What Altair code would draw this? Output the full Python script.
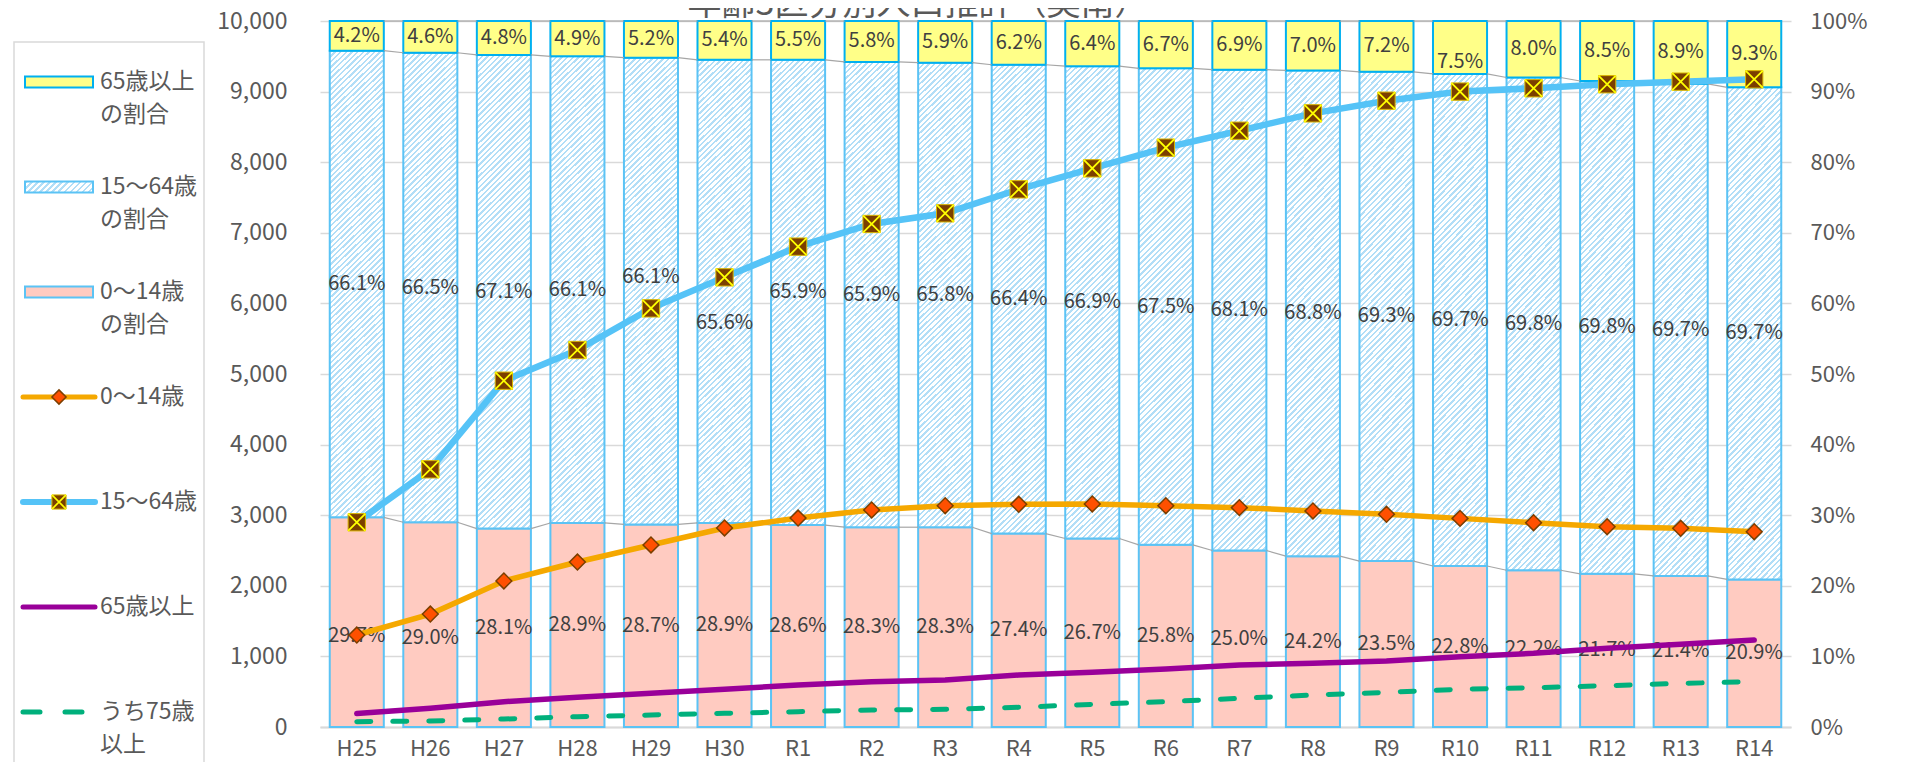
import altair as alt
import pandas as pd

# ---------------- data ----------------
CATS = ["H25", "H26", "H27", "H28", "H29", "H30", "R1", "R2", "R3", "R4",
        "R5", "R6", "R7", "R8", "R9", "R10", "R11", "R12", "R13", "R14"]
SHARE_0_14 = [29.7, 29.0, 28.1, 28.9, 28.7, 28.9, 28.6, 28.3, 28.3, 27.4,
              26.7, 25.8, 25.0, 24.2, 23.5, 22.8, 22.2, 21.7, 21.4, 20.9]
SHARE_15_64 = [66.1, 66.5, 67.1, 66.1, 66.1, 65.6, 65.9, 65.9, 65.8, 66.4,
               66.9, 67.5, 68.1, 68.8, 69.3, 69.7, 69.8, 69.8, 69.7, 69.7]
SHARE_65 = [4.2, 4.6, 4.8, 4.9, 5.2, 5.4, 5.5, 5.8, 5.9, 6.2,
            6.4, 6.7, 6.9, 7.0, 7.2, 7.5, 8.0, 8.5, 8.9, 9.3]
POP_0_14 = [1303, 1600, 2068, 2337, 2578, 2819, 2960, 3074, 3135, 3154,
            3159, 3135, 3107, 3060, 3013, 2955, 2894, 2837, 2814, 2766]
POP_15_64 = [2900, 3650, 4905, 5340, 5930, 6369, 6804, 7125, 7276, 7616,
             7913, 8206, 8446, 8692, 8871, 9000, 9047, 9104, 9141, 9174]
POP_65 = [190, 264, 358, 420, 477, 534, 595, 642, 666, 737,
          774, 822, 878, 902, 935, 996, 1043, 1114, 1171, 1232]
POP_75 = [75, 85, 113, 146, 170, 194, 217, 241, 250, 279,
          321, 358, 406, 453, 491, 534, 557, 585, 618, 642]

TITLE = "年齢3区分別人口推計（美南）"
LEG_LINE1 = ["65歳以上", "15〜64歳", "0〜14歳", "0〜14歳", "15〜64歳", "65歳以上", "うち75歳"]
LEG_LINE2 = ["の割合", "の割合", "の割合", "", "", "", "以上"]

# ---------------- style ----------------
W, H = 1471, 706
FNUM = "Noto Sans CJK JP, sans-serif"
FJP = "Noto Sans CJK JP, sans-serif"
AX_COL = "#595959"
LAB_COL = "#404040"
PINK = "#FFCBC1"
YELLOW = "#FFFF88"
BAR_EDGE = "#5BC3F5"
TOP_EDGE = "#00B0F0"
ORANGE = "#F5A800"
BLUE = "#55C3F7"
PURPLE = "#990099"
GREEN = "#00B07C"
DIAMOND_FILL = "#FF5000"
BROWN = "#7B3F00"
# manual label nudges seen in the reference (pixels, by category / segment)
NUDGE = {("H25", 0): 14, ("H26", 0): 13, ("H29", 1): -14, ("H30", 1): 32, ("R10", 2): 15}
# title placement relative to the plot area, in pixels (centre x, baseline y)
TITLE_X, TITLE_Y = 598, -6


def stripes(n, x2, y2, color, frac):
    stops = []
    for k in range(n):
        o0, o1, o2 = k / n, (k + frac) / n, (k + 1) / n
        stops += [{"offset": o0, "color": color}, {"offset": o1, "color": color},
                  {"offset": o1, "color": "#ffffff"}, {"offset": o2, "color": "#ffffff"}]
    return {"gradient": "linear", "x1": 0, "y1": 0, "x2": x2, "y2": y2, "stops": stops}


HATCH_BAR = stripes(95, 0.124, 1.1, "#B2DEF7", 0.42)
HATCH_SW = stripes(13, 1.131, 0.183, "#B2DEF7", 0.42)

# ---------------- tables ----------------
seg_rows = []
ends = []
for i, c in enumerate(CATS):
    a, b, d = SHARE_0_14[i], SHARE_15_64[i], SHARE_65[i]
    segs = [(0.0, a, a), (a, a + b, b), (a + b, 100.0, d)]
    ends.append([a, a + b, 100.0])
    for s, (st, en, v) in enumerate(segs):
        mid = (st + en) / 2 - NUDGE.get((c, s), 0) * 100.0 / H
        seg_rows.append({"cat": c, "seg": s, "start": st, "end": en, "mid": mid,
                         "label": f"{v:.1f}%"})
seg_df = pd.DataFrame(seg_rows)

ser_rows = []
for s in range(3):
    for i in range(len(CATS) - 1):
        ser_rows.append({"cat": CATS[i], "nxt": CATS[i + 1], "y": ends[i][s], "y2": ends[i + 1][s]})
ser_df = pd.DataFrame(ser_rows)

pop_df = pd.DataFrame({"cat": CATS, "p014": POP_0_14, "p1564": POP_15_64,
                       "p65": POP_65, "p75": POP_75})
leg_df = pd.DataFrame({"idx": list(range(len(LEG_LINE1))), "l1": LEG_LINE1, "l2": LEG_LINE2})

# ---------------- scales / axes ----------------
xs = alt.Scale(domain=CATS, paddingInner=0.265, paddingOuter=0.1325)
X_AX = alt.Axis(title=None, labelFont=FNUM, labelFontSize=22, labelColor=AX_COL, labelPadding=11,
                ticks=False, domainColor="#D9D9D9", domainWidth=2, labelAngle=0, grid=False)
yR = alt.Scale(domain=[0, 100])
R_AX = alt.Axis(orient="right", title=None, values=list(range(0, 101, 10)),
                labelExpr="datum.value + '%'", labelFont=FNUM, labelFontSize=22,
                labelColor=AX_COL, labelPadding=19, ticks=False, domain=False, grid=False)
yL = alt.Scale(domain=[0, 10000])
L_AX = alt.Axis(orient="left", title=None, values=list(range(0, 10001, 1000)), format=",.0f",
                labelFont=FNUM, labelFontSize=23, labelColor=AX_COL, labelPadding=33,
                ticks=False, domain=False, grid=True, gridColor="#D9D9D9", gridWidth=1.5)


def xenc(axis=None):
    return alt.X("cat:N", scale=xs, axis=axis)


# ---------------- bars (right axis, share) ----------------
segc = alt.Chart(seg_df)
bar0 = segc.transform_filter("datum.seg == 0").mark_bar(
    fill=PINK, stroke=BAR_EDGE, strokeWidth=2).encode(
    x=xenc(X_AX), y=alt.Y("start:Q", scale=yR, axis=R_AX), y2="end:Q")
bar1 = segc.transform_filter("datum.seg == 1").mark_bar(
    fill=HATCH_BAR, stroke=BAR_EDGE, strokeWidth=2).encode(
    x=xenc(), y=alt.Y("start:Q", scale=yR, axis=None), y2="end:Q")
bar2 = segc.transform_filter("datum.seg == 2").mark_bar(
    fill=YELLOW, stroke=TOP_EDGE, strokeWidth=2).encode(
    x=xenc(), y=alt.Y("start:Q", scale=yR, axis=None), y2="end:Q")
series = alt.Chart(ser_df).mark_rule(color="#A6A6A6", strokeWidth=1.2).encode(
    x=alt.X("cat:N", scale=xs, axis=None, bandPosition=1),
    x2=alt.X2("nxt:N", bandPosition=0),
    y=alt.Y("y:Q", scale=yR, axis=None), y2="y2:Q")
labels = segc.mark_text(font=FNUM, fontSize=20, color=LAB_COL, baseline="middle").encode(
    x=xenc(), y=alt.Y("mid:Q", scale=yR, axis=None), text="label:N")

# ---------------- lines (left axis, people) ----------------
base = alt.Chart(pop_df).encode(x=xenc())
l75 = base.mark_line(color=GREEN, strokeWidth=5, strokeDash=[14, 22], strokeCap="round").encode(
    y=alt.Y("p75:Q", scale=yL, axis=L_AX))
l65 = base.mark_line(color=PURPLE, strokeWidth=5.5, strokeCap="round").encode(
    y=alt.Y("p65:Q", scale=yL, axis=None))
l014 = base.mark_line(color=ORANGE, strokeWidth=5.5).encode(y=alt.Y("p014:Q", scale=yL, axis=None))
l1564 = base.mark_line(color=BLUE, strokeWidth=6.5).encode(y=alt.Y("p1564:Q", scale=yL, axis=None))
pt014 = base.mark_point(shape="diamond", filled=True, fill=DIAMOND_FILL, stroke=BROWN,
                        strokeWidth=1.5, size=250, opacity=1).encode(
    y=alt.Y("p014:Q", scale=yL, axis=None))
pt1564 = base.mark_point(shape="square", filled=True, fill=BROWN, stroke="#D8B400",
                         strokeWidth=1, size=300, opacity=1).encode(
    y=alt.Y("p1564:Q", scale=yL, axis=None))
x1564 = base.mark_point(shape="M-1,-1L1,1M-1,1L1,-1", filled=False, stroke="#FFFF00",
                        strokeWidth=1.8, size=300, opacity=1).encode(
    y=alt.Y("p1564:Q", scale=yL, axis=None))

# ---------------- title (plot-relative pixel scales) ----------------
PXS = alt.Scale(domain=[0, W], range=[0, W])
PYS = alt.Scale(domain=[0, H], range=[0, H])
title_mark = alt.Chart(pd.DataFrame({"t": [TITLE]})).mark_text(
    font=FJP, fontSize=34, color=AX_COL, align="center", baseline="alphabetic").encode(
    x=alt.XDatum(TITLE_X, scale=PXS, axis=None), y=alt.YDatum(TITLE_Y, scale=PYS, axis=None),
    text="t:N")

# ---------------- legend (own scales, left margin) ----------------
LX = alt.Scale(domain=[0, 190], range=[-306, -116])
LY = alt.Scale(domain=[0, 6], range=[61, 691])
legc = alt.Chart(leg_df)
ly = alt.Y("idx:Q", scale=LY, axis=None)
frame = alt.Chart(pd.DataFrame({"k": [0]})).mark_rect(
    fill="#ffffff", fillOpacity=0, stroke="#D9D9D9", strokeWidth=1.5).encode(
    x=alt.XDatum(0, scale=LX, axis=None), x2=alt.X2Datum(190),
    y=alt.YDatum(-0.381, scale=LY, axis=None), y2=alt.Y2Datum(7.2))
t1 = legc.mark_text(align="left", baseline="middle", font=FJP, fontSize=23, color=AX_COL).encode(
    x=alt.XDatum(86, scale=LX, axis=None), y=ly, text="l1:N")
t2 = legc.mark_text(align="left", baseline="middle", font=FJP, fontSize=23, color=AX_COL, dy=33).encode(
    x=alt.XDatum(86, scale=LX, axis=None), y=ly, text="l2:N")
RECT_PATH = "M-1,-0.162H1V0.162H-1Z"


def sw_rect(k, fill, stroke):
    return legc.transform_filter(f"datum.idx == {k}").mark_point(
        shape=RECT_PATH, filled=True, fill=fill, stroke=stroke, strokeWidth=2,
        size=4624, opacity=1).encode(x=alt.XDatum(45, scale=LX, axis=None), y=ly)


def sw_line(k, **kw):
    return legc.transform_filter(f"datum.idx == {k}").mark_rule(**kw).encode(
        x=alt.XDatum(9, scale=LX, axis=None), x2=alt.X2Datum(81), y=ly)


def sw_pt(k, **kw):
    return legc.transform_filter(f"datum.idx == {k}").mark_point(opacity=1, **kw).encode(
        x=alt.XDatum(45, scale=LX, axis=None), y=ly)


legend_layers = [
    frame, t1, t2,
    sw_rect(0, YELLOW, TOP_EDGE), sw_rect(1, HATCH_SW, BAR_EDGE), sw_rect(2, PINK, BAR_EDGE),
    sw_line(3, color=ORANGE, strokeWidth=5, strokeCap="round"),
    sw_pt(3, shape="diamond", filled=True, fill=DIAMOND_FILL, stroke=BROWN, strokeWidth=1.5, size=200),
    sw_line(4, color=BLUE, strokeWidth=6, strokeCap="round"),
    sw_pt(4, shape="square", filled=True, fill=BROWN, stroke="#D8B400", strokeWidth=1, size=200),
    sw_pt(4, shape="M-1,-1L1,1M-1,1L1,-1", filled=False, stroke="#FFFF00", strokeWidth=1.6, size=200),
    sw_line(5, color=PURPLE, strokeWidth=5, strokeCap="round"),
    sw_line(6, color=GREEN, strokeWidth=5, strokeCap="round", strokeDash=[17, 25]),
]

chart = alt.layer(
    bar0, bar1, bar2, series, labels,
    l75, l65, l014, l1564, pt014, pt1564, x1564,
    title_mark,
    *legend_layers,
).resolve_scale(x="independent", y="independent").properties(
    width=W, height=H,
    autosize=alt.AutoSizeParams(type="none"),
    padding={"left": 312, "top": 13, "right": 107, "bottom": 35},
    background="#ffffff",
).configure_view(stroke=None)

chart.save("out.html", embed_options={"renderer": "svg", "actions": False})
